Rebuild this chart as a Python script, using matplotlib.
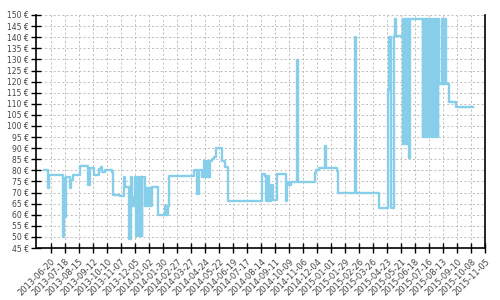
import matplotlib
matplotlib.use("Agg")
import matplotlib.pyplot as plt
import pandas as pd

dates = [
    "2013-06-06", "2013-06-14", "2013-06-16", "2013-07-13", "2013-07-15", "2013-07-18",
    "2013-07-20", "2013-07-27", "2013-07-30", "2013-08-02", "2013-08-16", "2013-08-17",
    "2013-09-01", "2013-09-05", "2013-09-13", "2013-09-24", "2013-09-27", "2013-09-29",
    "2013-10-06", "2013-10-19", "2013-10-21", "2013-11-05", "2013-11-12", "2013-11-15",
    "2013-11-23", "2013-11-26", "2013-11-28", "2013-12-02", "2013-12-05", "2013-12-07",
    "2013-12-08", "2013-12-10", "2013-12-11", "2013-12-13", "2013-12-14", "2013-12-16",
    "2013-12-17", "2013-12-18", "2013-12-19", "2013-12-24", "2013-12-26", "2013-12-27",
    "2013-12-29", "2013-12-30", "2014-01-01", "2014-01-02", "2014-01-04", "2014-01-05",
    "2014-01-07", "2014-01-19", "2014-02-03", "2014-02-04", "2014-02-06", "2014-02-07",
    "2014-02-09", "2014-02-11", "2014-04-02", "2014-04-08", "2014-04-12", "2014-04-18",
    "2014-04-22", "2014-04-23", "2014-04-25", "2014-04-26", "2014-04-28", "2014-04-29",
    "2014-05-01", "2014-05-02", "2014-05-03", "2014-05-07", "2014-05-12", "2014-05-16",
    "2014-05-28", "2014-06-02", "2014-06-09", "2014-08-15", "2014-08-22", "2014-08-23",
    "2014-08-25", "2014-08-26", "2014-08-28", "2014-08-30", "2014-09-03", "2014-09-06",
    "2014-09-14", "2014-10-02", "2014-10-04", "2014-10-09", "2014-10-13", "2014-10-24",
    "2014-10-26", "2014-11-29", "2014-12-02", "2014-12-07", "2014-12-20", "2014-12-22",
    "2015-01-12", "2015-01-14", "2015-02-18", "2015-02-19", "2015-04-07", "2015-04-24",
    "2015-04-27", "2015-05-01", "2015-05-07", "2015-05-09", "2015-05-11", "2015-05-24",
    "2015-05-25", "2015-05-26", "2015-05-28", "2015-05-29", "2015-05-31", "2015-06-01",
    "2015-06-03", "2015-06-04", "2015-06-05", "2015-06-08", "2015-07-03", "2015-07-04",
    "2015-07-06", "2015-07-07", "2015-07-09", "2015-07-10", "2015-07-12", "2015-07-13",
    "2015-07-15", "2015-07-16", "2015-07-18", "2015-07-19", "2015-07-21", "2015-07-26",
    "2015-07-27", "2015-07-28", "2015-07-30", "2015-07-31", "2015-08-02", "2015-08-03",
    "2015-08-05", "2015-08-11", "2015-08-12", "2015-08-14", "2015-08-15", "2015-08-17",
    "2015-08-18", "2015-08-25", "2015-09-07", "2015-10-12",
]
prices = [
    80, 72, 78, 50, 76.5, 59,
    77, 72, 75.5, 78, 80, 82,
    73.5, 81, 78, 80.5, 81.5, 79.5,
    80, 79.5, 69, 68.5, 77, 72.5,
    49, 77, 64, 68, 77, 50.5,
    77, 50.5, 77, 50.5, 77, 50.5,
    77, 50.5, 77, 64, 72, 64,
    72, 64, 72, 64, 72, 64,
    72.5, 60, 64, 60, 64, 60,
    64, 77.5, 80, 69.5, 80, 77,
    84.3, 77, 84.3, 77, 84.3, 77,
    84.3, 77, 84.3, 85, 86, 90,
    84.3, 81.5, 66, 78.3, 77.5, 66,
    77.5, 66, 77.5, 66, 73.5, 66.5,
    78.3, 66.3, 74.6, 73.4, 74.6, 129.7,
    74.6, 79, 80.4, 81.3, 91, 81.3,
    79.8, 70, 140, 70, 63.2, 116.2,
    140, 63.2, 140.5, 148, 140.5, 148,
    91.7, 148, 91.7, 148, 91.7, 148,
    91.7, 148, 85.7, 148, 95.2, 148,
    95.2, 148, 95.2, 148, 95.2, 148,
    95.2, 148, 95.2, 148, 95.2, 148,
    95.2, 148, 95.2, 148, 95.2, 148,
    119, 148, 119, 148, 119, 148,
    119, 111, 108.7, 108.7,
]

tick_dates = pd.date_range("2013-06-20", "2015-11-05", freq="28D")
y_ticks = list(range(45, 151, 5))

x = pd.to_datetime(dates)

fig = plt.figure(figsize=(5, 3), dpi=100)
ax = fig.add_axes([0.072, 0.173, 0.898, 0.777])

ax.step(x, prices, where="post", color="#87ceeb", lw=1.7, zorder=3)

ax.set_xlim(pd.Timestamp("2013-05-21"), pd.Timestamp("2015-11-05"))
ax.set_ylim(45, 150)
ax.set_xticks(tick_dates)
ax.set_xticklabels([d.strftime("%Y-%m-%d") for d in tick_dates],
                   rotation=45, ha="right", rotation_mode="anchor",
                   fontsize=6, color="#444444")
ax.set_yticks(y_ticks)
ax.set_yticklabels([f"{v} €" for v in y_ticks], fontsize=5.5, color="#444444")

ax.grid(True, color="#c0c0c0", linestyle=(0, (2.2, 2.2)), linewidth=0.7)
ax.set_axisbelow(True)

for s in ["left", "bottom", "right"]:
    ax.spines[s].set_color("black")
    ax.spines[s].set_linewidth(1.2)
ax.spines["top"].set_visible(False)

ax.tick_params(axis="both", direction="inout", length=6.5, width=1.0, color="black")
ax.tick_params(axis="x", pad=3)
ax.tick_params(axis="y", pad=2)

fig.savefig("out.png", dpi=100)
